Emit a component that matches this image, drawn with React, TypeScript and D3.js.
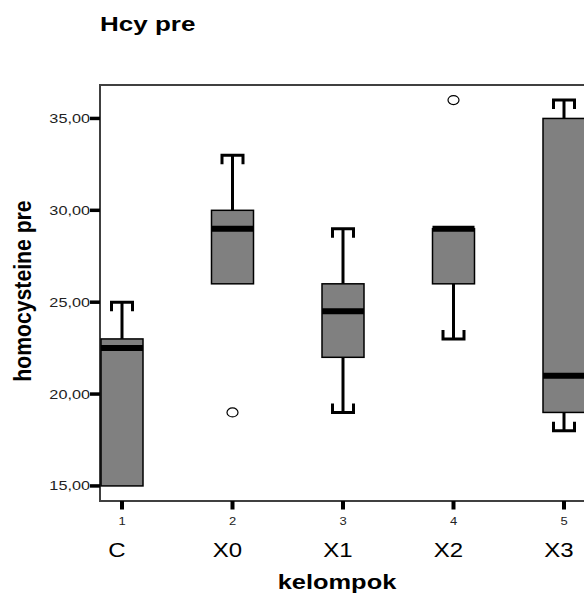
import React, { useEffect, useRef } from "react";
import * as d3 from "d3";

// group codes and names on the x axis
const groupCodes = [1, 2, 3, 4, 5];
const groupNames = ["C", "X0", "X1", "X2", "X3"];

// box plot summaries (homocysteine pre)
const whiskerLow = [15, 26, 19, 23, 18];
const q1 = [15, 26, 22, 26, 19];
const median = [22.5, 29, 24.5, 29, 21];
const q3 = [23, 30, 26, 29, 35];
const whiskerHigh = [25, 33, 29, 29, 36];

// outliers: group code, value
const outlierGroups = [2, 4];
const outlierValues = [19, 36];

const yTicks = [15, 20, 25, 30, 35];

const FONT = "'Liberation Sans', Arial, sans-serif";
const SX = 1.3; // the original is stretched sideways

const BoxChart = () => {
    const svgRef = useRef(null);
    const width = 584;
    const height = 602;

    useEffect(() => {
        const svg = d3.select(svgRef.current);
        svg.selectAll("*").remove();

        const frame = { left: 100, top: 85, right: 660, bottom: 501 };

        //y scale
        const yScale = d3
            .scaleLinear()
            .domain([14.18, 36.82])
            .range([frame.bottom, frame.top]);

        //x scale
        const xScale = d3.scaleLinear().domain([1, 5]).range([122, 564]);

        const boxW = 42;
        const capW = 21;
        const serif = 9;

        const data = groupCodes.map((g, i) => ({
            g,
            name: groupNames[i],
            lo: whiskerLow[i],
            q1: q1[i],
            med: median[i],
            q3: q3[i],
            hi: whiskerHigh[i],
        }));

        // title
        svg
            .append("text")
            .attr("transform", `translate(100,31) scale(${SX},1)`)
            .attr("font-family", FONT)
            .attr("font-weight", "bold")
            .attr("font-size", 20)
            .attr("fill", "#000")
            .text("Hcy pre");

        // frame
        svg
            .append("rect")
            .attr("x", frame.left)
            .attr("y", frame.top)
            .attr("width", frame.right - frame.left)
            .attr("height", frame.bottom - frame.top)
            .attr("fill", "none")
            .attr("stroke", "#404040")
            .attr("stroke-width", 2);

        // y ticks + labels
        const yAxis = svg.append("g");
        yTicks.forEach((t) => {
            yAxis
                .append("line")
                .attr("x1", frame.left - 10)
                .attr("x2", frame.left)
                .attr("y1", yScale(t))
                .attr("y2", yScale(t))
                .attr("stroke", "#000")
                .attr("stroke-width", 3.5);
            yAxis
                .append("text")
                .attr("transform", `translate(${frame.left - 10},${yScale(t) + 4.5}) scale(${SX},1)`)
                .attr("text-anchor", "end")
                .attr("font-family", FONT)
                .attr("font-size", 12.5)
                .attr("fill", "#222")
                .text(d3.format(".2f")(t).replace(".", ","));
        });

        // y axis title
        svg
            .append("text")
            .attr("transform", `translate(31,291) scale(1.15,1) rotate(-90)`)
            .attr("text-anchor", "middle")
            .attr("font-family", FONT)
            .attr("font-weight", "bold")
            .attr("font-size", 21.2)
            .attr("fill", "#000")
            .text("homocysteine pre");

        // x ticks + labels
        const xAxis = svg.append("g");
        data.forEach((d) => {
            const x = xScale(d.g);
            xAxis
                .append("line")
                .attr("x1", x)
                .attr("x2", x)
                .attr("y1", frame.bottom)
                .attr("y2", frame.bottom + 8.5)
                .attr("stroke", "#000")
                .attr("stroke-width", 4);
            xAxis
                .append("text")
                .attr("transform", `translate(${x},525) scale(${SX},1)`)
                .attr("text-anchor", "middle")
                .attr("font-family", FONT)
                .attr("font-size", 10)
                .attr("fill", "#222")
                .text(d.g);
            xAxis
                .append("text")
                .attr("transform", `translate(${x - 5},557) scale(1.2,1)`)
                .attr("text-anchor", "middle")
                .attr("font-family", FONT)
                .attr("font-size", 20)
                .attr("fill", "#000")
                .text(d.name);
        });

        // x axis title
        svg
            .append("text")
            .attr("transform", `translate(337,589) scale(1.27,1)`)
            .attr("text-anchor", "middle")
            .attr("font-family", FONT)
            .attr("font-weight", "bold")
            .attr("font-size", 20)
            .attr("fill", "#000")
            .text("kelompok");

        // boxes
        const boxes = svg.append("g");
        data.forEach((d) => {
            const x = xScale(d.g);

            // whiskers with bent caps
            const whisker = (from, to) => {
                if (from === to) return;
                const dir = to > from ? -1 : 1; // serifs point back to the box
                boxes
                    .append("line")
                    .attr("x1", x)
                    .attr("x2", x)
                    .attr("y1", yScale(from))
                    .attr("y2", yScale(to))
                    .attr("stroke", "#000")
                    .attr("stroke-width", 3);
                const yc = yScale(to);
                boxes
                    .append("path")
                    .attr(
                        "d",
                        `M${x - capW / 2},${yc - dir * serif}V${yc}H${x + capW / 2}V${yc - dir * serif}`
                    )
                    .attr("fill", "none")
                    .attr("stroke", "#000")
                    .attr("stroke-width", 3);
            };
            whisker(d.q3, d.hi);
            whisker(d.q1, d.lo);

            boxes
                .append("rect")
                .attr("x", x - boxW / 2)
                .attr("y", yScale(d.q3))
                .attr("width", boxW)
                .attr("height", yScale(d.q1) - yScale(d.q3))
                .attr("fill", "#808080")
                .attr("stroke", "#000")
                .attr("stroke-width", 1.5);

            boxes
                .append("line")
                .attr("x1", x - boxW / 2)
                .attr("x2", x + boxW / 2)
                .attr("y1", yScale(d.med))
                .attr("y2", yScale(d.med))
                .attr("stroke", "#000")
                .attr("stroke-width", 6);
        });

        // outliers
        outlierGroups.forEach((g, i) => {
            svg
                .append("ellipse")
                .attr("cx", xScale(g))
                .attr("cy", yScale(outlierValues[i]))
                .attr("rx", 5.5)
                .attr("ry", 4.5)
                .attr("fill", "#fff")
                .attr("stroke", "#000")
                .attr("stroke-width", 1.2);
        });
    }, []);

    return (
        <svg
            ref={svgRef}
            width={width}
            height={height}
            style={{ position: "absolute", left: 0, top: 0, background: "#fff" }}
        />
    );
};

export default function App() {
    return <BoxChart />;
}
